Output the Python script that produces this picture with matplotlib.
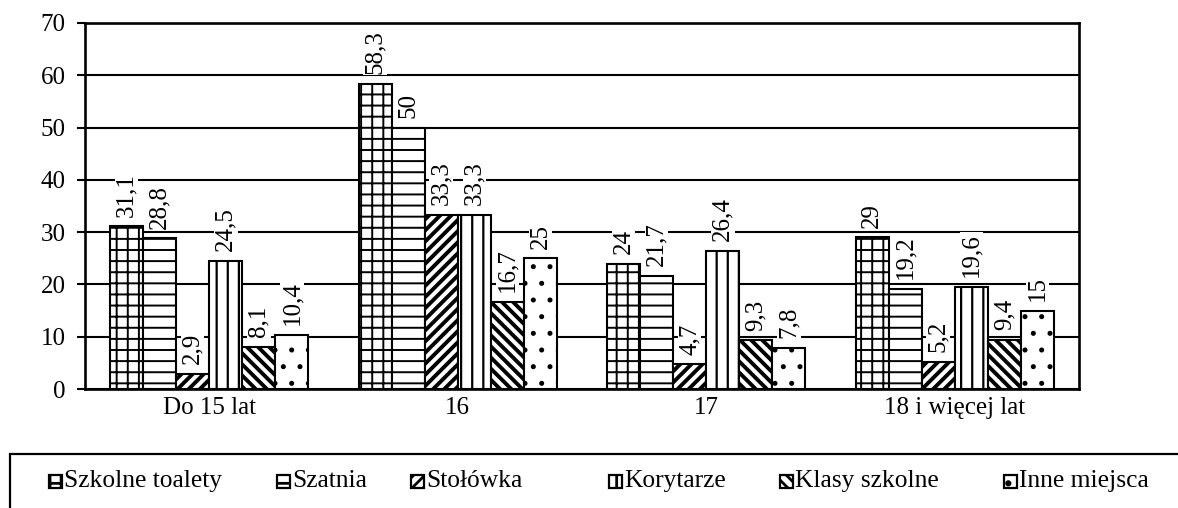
import matplotlib
matplotlib.use("Agg")
import matplotlib.pyplot as plt
from matplotlib.patches import Rectangle
import numpy as np

groups = ["Do 15 lat", "16", "17", "18 i więcej lat"]
series = ["Szkolne toalety", "Szatnia", "Stołówka", "Korytarze", "Klasy szkolne", "Inne miejsca"]
toalety = [31.1, 58.3, 24, 29]
szatnia = [28.8, 50, 21.7, 19.2]
stolowka = [2.9, 33.3, 4.7, 5.2]
korytarze = [24.5, 33.3, 26.4, 19.6]
klasy = [8.1, 16.7, 9.3, 9.4]
inne = [10.4, 25, 7.8, 15]
values = [toalety, szatnia, stolowka, korytarze, klasy, inne]
y_ticks = [0, 10, 20, 30, 40, 50, 60, 70]

hatches = ["+++", "---", "//////", "|||", "\\" * 6, ".."]
hatch_lw = [0.7, 0.7, 1.4, 0.8, 1.4, 0.6]

plt.rcParams["font.family"] = ["Liberation Serif", "DejaVu Serif"]
plt.rcParams["font.size"] = 9
plt.rcParams["hatch.color"] = "black"

W, H = 1178, 508
fig = plt.figure(figsize=(W / 200, H / 200), dpi=200)
ax = fig.add_axes([85 / W, 1 - 389 / H, (1079 - 85) / W, (389 - 23) / H])

x = np.arange(len(groups))
bw = 0.133
for i, (name, vals) in enumerate(zip(series, values)):
    pos = x + (i - 2.5) * bw
    with plt.rc_context({"hatch.linewidth": hatch_lw[i]}):
        bars = ax.bar(pos, vals, bw, color="white", edgecolor="black",
                      linewidth=0.75, hatch=hatches[i], zorder=3, label=name)
    for b in bars:
        try:
            b.set_hatch_linewidth(hatch_lw[i])
        except AttributeError:
            pass
    for p, v in zip(pos, vals):
        ax.annotate(f"{v:g}".replace(".", ","), (p, v), xytext=(0, 3.5),
                    textcoords="offset points", rotation=90,
                    ha="center", va="bottom", zorder=4,
                    bbox=dict(facecolor="white", edgecolor="none", pad=0.3))

ax.set_xlim(-0.5, 3.5)
ax.set_ylim(0, 70)
ax.set_yticks(y_ticks)
ax.set_xticks(x)
ax.set_xticklabels(groups)
ax.tick_params(axis="x", length=0, pad=3)
ax.tick_params(axis="y", length=2.9, width=0.75, pad=4, direction="out")
ax.yaxis.grid(True, color="black", linewidth=0.75, zorder=0)
ax.set_axisbelow(True)
for s in ax.spines.values():
    s.set_linewidth(0.95)

# legend box (runs off the right and bottom edges)
fig.patches.append(Rectangle((10 / W, -0.1), 1.1, 0.1 + (H - 454) / H,
                             transform=fig.transFigure, fill=False,
                             edgecolor="black", linewidth=0.8))
leg_x = [49, 277, 411, 609, 780, 1004]
ly = 481
sz = 13
for i, name in enumerate(series):
    fig.patches.append(Rectangle((leg_x[i] / W, 1 - (ly + sz / 2) / H), sz / W, sz / H,
                                 transform=fig.transFigure, facecolor="white",
                                 edgecolor="black", linewidth=0.8, hatch=hatches[i]))
    fig.text((leg_x[i] + sz + 2) / W, 1 - ly / H, name, ha="left", va="center",
             fontsize=9.2)

fig.savefig("out.png", dpi=200)
